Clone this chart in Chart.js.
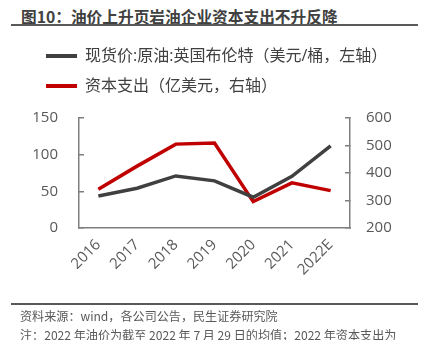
<!DOCTYPE html>
<html>
<head>
<meta charset="utf-8">
<script src="https://cdn.jsdelivr.net/npm/chart.js@4.4.0/dist/chart.umd.min.js"></script>
<style>
  html, body { margin:0; padding:0; background:#ffffff; }
  #wrap { position:relative; width:426px; height:340px; overflow:hidden; font-family:'Open Sans','Noto Sans CJK SC',sans-serif; }
  #title { position:absolute; left:21px; top:5px; font-size:15.7px; font-weight:bold; color:#404040; white-space:nowrap; font-family:'Noto Sans CJK SC',sans-serif; }
  .rule { position:absolute; left:11px; width:407px; height:2px; background:#595959; }
  .foot { position:absolute; left:20px; font-size:12.1px; color:#595959; white-space:nowrap; font-family:'Noto Sans CJK SC',sans-serif; }
  canvas { position:absolute; left:0; top:0; }
</style>
</head>
<body>
<div id="wrap">
  <div id="title">图10：油价上升页岩油企业资本支出不升反降</div>
  <div class="rule" style="top:24px"></div>
  <canvas id="c" width="426" height="340"></canvas>
  <div class="rule" style="top:303px"></div>
  <div class="foot" style="top:307px">资料来源：wind，各公司公告，民生证券研究院</div>
  <div class="foot" style="top:326px">注：2022 年油价为截至 2022 年 7 月 29 日的均值；2022 年资本支出为</div>
</div>
<script>
const categories = ['2016','2017','2018','2019','2020','2021','2022E'];
const brentPrice = [43.7, 54.2, 71.0, 64.3, 42.0, 70.5, 112.0];
const capex = [341, 425, 505, 509, 296, 364, 336];
const leftTicks = [0, 50, 100, 150];
const rightTicks = [200, 300, 400, 500, 600];
const seriesNames = ['现货价:原油:英国布伦特（美元/桶，左轴）', '资本支出（亿美元，右轴）'];

const FONT = "'Open Sans','Noto Sans CJK SC',sans-serif";
const TXT = '#595959';

const legendHeight = {
  id: 'legendHeight',
  beforeInit(chart) {
    const fit = chart.legend.fit;
    chart.legend.fit = function() { fit.call(this); this.height = 84; };
  }
};

new Chart(document.getElementById('c'), {
  type: 'line',
  data: {
    labels: categories,
    datasets: [
      { label: seriesNames[0], data: brentPrice, yAxisID: 'yL', borderColor: '#404040', backgroundColor: '#404040', borderWidth: 3.5, pointRadius: 0, tension: 0 },
      { label: seriesNames[1], data: capex, yAxisID: 'yR', borderColor: '#c00000', backgroundColor: '#c00000', borderWidth: 3.5, pointRadius: 0, tension: 0 }
    ]
  },
  options: {
    responsive: false,
    animation: false,
    layout: { padding: { top: 34, left: 32, right: 0, bottom: 0 } },
    plugins: {
      tooltip: { enabled: false },
      legend: {
        position: 'top',
        align: 'start',
        labels: {
          boxWidth: 31,
          boxHeight: 4,
          padding: 14,
          color: '#404040',
          font: { size: 16, family: FONT },
          generateLabels(chart) {
            const items = Chart.defaults.plugins.legend.labels.generateLabels(chart);
            items.forEach(i => { i.lineWidth = 0; });
            return items;
          }
        }
      }
    },
    scales: {
      x: {
        offset: true,
        grid: { display: false, drawTicks: false },
        border: { display: true, color: '#7f7f7f', width: 1.5 },
        ticks: { color: TXT, font: { size: 15, family: FONT }, maxRotation: 45, minRotation: 45, autoSkip: false, padding: 8 },
        afterFit(s) { s.height = 112; }
      },
      yL: {
        position: 'left',
        min: 0, max: 150,
        afterBuildTicks(s) { s.ticks = leftTicks.map(v => ({ value: v })); },
        grid: { drawOnChartArea: false, drawTicks: true, tickLength: -5, color: '#7f7f7f', lineWidth: 1.5 },
        border: { display: true, color: '#7f7f7f', width: 1.5 },
        ticks: { color: TXT, font: { size: 15, family: FONT }, padding: 26 },
        afterFit(s) { s.width = 47; }
      },
      yR: {
        position: 'right',
        min: 200, max: 600,
        afterBuildTicks(s) { s.ticks = rightTicks.map(v => ({ value: v })); },
        grid: { drawOnChartArea: false, drawTicks: true, tickLength: -5, color: '#7f7f7f', lineWidth: 1.5 },
        border: { display: true, color: '#7f7f7f', width: 1.5 },
        ticks: { color: TXT, font: { size: 15, family: FONT }, padding: 21 },
        afterFit(s) { s.width = 76; }
      }
    }
  },
  plugins: [legendHeight]
});
</script>
</body>
</html>
